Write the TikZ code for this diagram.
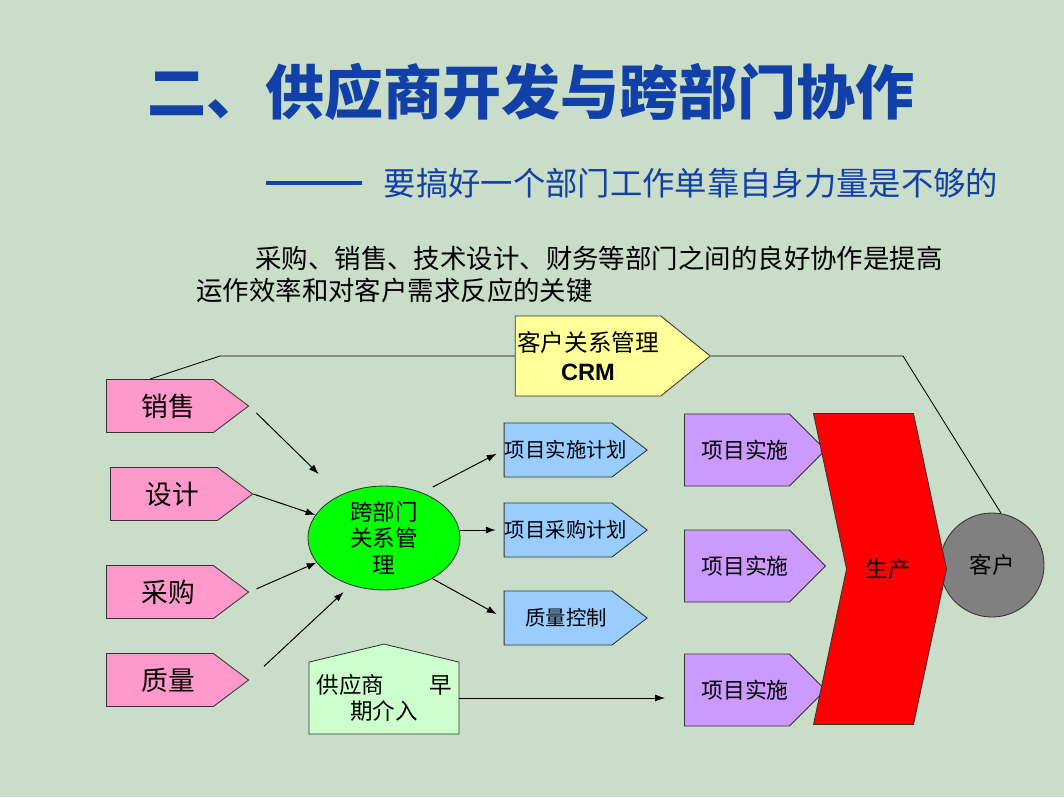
\documentclass[tikz,border=0pt]{standalone}
\usepackage{fontspec}
\setmainfont{Noto Sans CJK SC}
\newfontfamily\crmfont{Liberation Sans}
\usepackage{tikz}
\usetikzlibrary{arrows.meta, positioning, shapes.symbols, shapes.geometric}
\usepackage{xcolor}
\definecolor{slidebg}{RGB}{202,221,200}
\definecolor{titleblue}{RGB}{16,64,168}
\definecolor{softpink}{RGB}{255,153,204}
\definecolor{softblue}{RGB}{153,204,255}
\definecolor{softviolet}{RGB}{204,153,255}
\definecolor{softyellow}{RGB}{255,255,153}
\definecolor{palegreen}{RGB}{204,255,204}
\definecolor{hubgreen}{RGB}{0,255,0}
\newcommand{\nudged}[1]{\makebox[0pt]{\hspace{0.4cm}#1}}

\begin{document}
\begin{tikzpicture}[x=0.025cm, y=-0.025cm, every node/.style={inner sep=0pt},
  arr/.style={-{Latex[length=7pt,width=5pt]}, line width=0.7pt},
  deptbox/.style={signal, signal to=east, signal pointer angle=74, draw=black!80, line width=0.6pt,
    fill=softpink, minimum width=3.55cm, minimum height=1.325cm, font=\fontsize{19pt}{22pt}\selectfont},
  planbox/.style={signal, signal to=east, signal pointer angle=75, draw=black!80, line width=0.6pt,
    fill=softblue, minimum width=3.575cm, minimum height=1.35cm, font=\fontsize{14.5pt}{17pt}\selectfont},
  runbox/.style={signal, signal to=east, signal pointer angle=90, draw=black!80, line width=0.6pt,
    fill=softviolet, minimum width=3.525cm, minimum height=1.8cm, font=\fontsize{15.5pt}{18pt}\selectfont}]
  \fill[slidebg] (0,0) rectangle (1064,797);
  % heading
  \node[titleblue, font=\fontsize{42pt}{48pt}\selectfont\bfseries] (title) at (531,92) {二、供应商开发与跨部门协作};
  \node[titleblue, font=\fontsize{23pt}{28pt}\selectfont] (subtitle) at (691,183) {要搞好一个部门工作单靠自身力量是不够的};
  \draw[titleblue, line width=3.5pt] ([xshift=-0.525cm]subtitle.west) -- ++(-96,0);
  \node[anchor=west, font=\fontsize{18.8pt}{22pt}\selectfont] (intro1) at (255,258) {采购、销售、技术设计、财务等部门之间的良好协作是提高};
  \node[anchor=west, font=\fontsize{18.8pt}{22pt}\selectfont] (intro2) at (196,290) {运作效率和对客户需求反应的关键};
  % departments
  \node[deptbox] (xs) at (160,406) {\nudged{销售}};
  \node[deptbox] (sj) at (164,494) {\nudged{设计}};
  \node[deptbox] (cg) at (160,592) {\nudged{采购}};
  \node[deptbox] (zl) at (160,680) {\nudged{质量}};
  % hub
  \node[ellipse, draw=black!80, line width=0.6pt, fill=hubgreen, minimum width=3.8cm, minimum height=2.575cm,
    align=center, font=\fontsize{16pt}{19pt}\selectfont] (hub) at (384,538) {跨部门\\关系管\\理};
  % plans
  \node[planbox] (ssjh) at (558,450) {\nudged{项目实施计划}};
  \node[planbox] (cgjh) at (558,530) {\nudged{项目采购计划}};
  \node[planbox] (zlkz) at (558,618) {\nudged{质量控制}};
  % execution
  \node[runbox] (ss1) at (737,450) {\nudged{项目实施}};
  \node[runbox] (ss2) at (737,566) {\nudged{项目实施}};
  \node[runbox] (ss3) at (737,690) {\nudged{项目实施}};
  % customer and production
  \node[circle, draw=black!80, line width=0.6pt, fill=gray, minimum size=2.6cm,
    font=\fontsize{16pt}{19pt}\selectfont] (kh) at (992,565) {客户};
  \node[signal, signal from=west, signal to=east, signal pointer angle=156, draw=black!80, line width=0.6pt,
    fill=red, minimum width=3.325cm, minimum height=7.775cm, font=\fontsize{16pt}{19pt}\selectfont] (sc) at (880,569) {\nudged{生产}};
  % CRM
  \node[signal, signal to=east, signal pointer angle=78, draw=black!80, line width=0.6pt, fill=softyellow,
    minimum width=4.875cm, minimum height=2cm, align=center, font=\fontsize{16.8pt}{20.5pt}\selectfont] (crm) at (588,356)
    {客户关系管理\\{\crmfont\bfseries CRM}};
  % supplier
  \node[signal, signal to=north, signal pointer angle=153, draw=black!80, line width=0.6pt, fill=palegreen,
    minimum width=3.75cm, minimum height=2.2cm, align=center, font=\fontsize{16pt}{19pt}\selectfont] (gys) at (384,698)
    {供应商　　早\\期介入};
  % CRM line
  \coordinate (bendl) at (220,352);
  \coordinate (bendr) at (903,352);
  \draw[line width=0.6pt] ([xshift=-0.25cm]xs.north) -- (bendl |- crm.west) -- (crm.west);
  \draw[line width=0.6pt] (crm.east) -- (bendr |- crm.east) -- (kh.80);
  % arrows
  \draw[arr, shorten <=0.25cm, shorten >=0.75cm] (xs.east) -- (hub);
  \draw[arr] (sj.east) -- (hub);
  \draw[arr, shorten <=0.2cm] (cg.east) -- (hub.200);
  \draw[arr, shorten <=0.5cm, shorten >=0.25cm] (zl.east) -- (hub.235);
  \draw[arr, shorten <=0.3cm, shorten >=0.2cm] (hub.50) -- (ssjh.west);
  \draw[arr, shorten >=0.2cm] (hub.east |- cgjh.west) -- (cgjh.west);
  \draw[arr, shorten >=0.2cm] (hub.-40) -- (zlkz.west);
  \draw[arr, shorten >=0.475cm] (gys.east) -- (gys.east -| ss3.west);
\end{tikzpicture}
\end{document}
